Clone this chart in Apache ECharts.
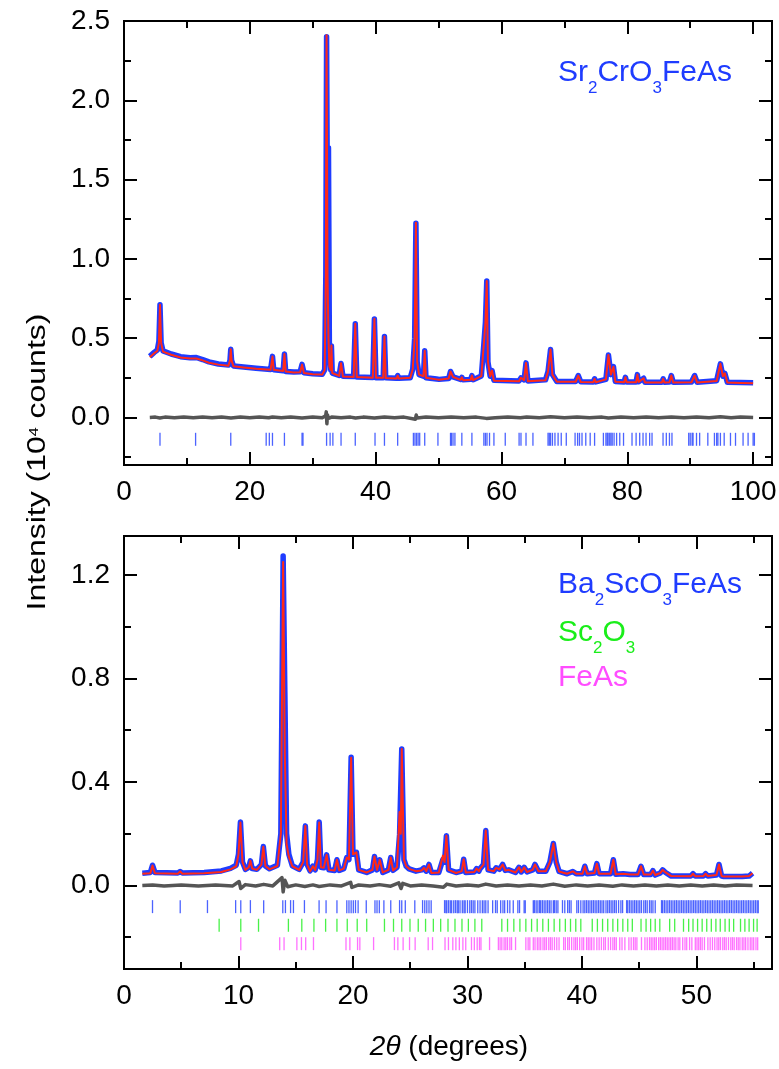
<!DOCTYPE html>
<html>
<head>
<meta charset="utf-8">
<script src="https://cdn.jsdelivr.net/npm/echarts@6/dist/echarts.min.js"></script>
<style>
html,body{margin:0;padding:0;background:#fff;}
#chart{width:779px;height:1069px;}
</style>
</head>
<body>
<div id="chart"></div>
<script>
// ---------------- Top panel: Sr2CrO3FeAs ----------------
const topTheta = [
  4.1, 4.8, 5.3, 5.55, 5.72, 5.9, 6.2, 7.5, 9.0, 10.5, 11.5,
  12.5, 13.5, 15.0, 16.6, 16.85, 16.97, 17.1, 17.4, 19.0, 21.0, 23.3,
  23.6, 23.8, 25.3, 25.5, 25.7, 27.0, 28.0, 28.3, 28.6, 30.0, 31.5,
  31.9, 32.08, 32.2, 32.35, 32.5, 32.65, 32.85, 32.97, 33.1, 34.2, 34.5,
  34.8, 36.5, 36.76, 37.0, 39.55, 39.8, 40.05, 41.2, 41.4, 41.6, 43.3,
  43.5, 43.7, 45.5, 45.9, 46.2, 46.4, 46.6, 46.9, 47.6, 47.8, 48.0,
  49.7, 49.9, 50.1, 51.6, 51.9, 52.3, 53.5, 53.7, 53.9, 55.1, 55.3,
  55.5, 56.8, 57.2, 57.45, 57.66, 57.85, 58.2, 58.5, 58.8, 62.8, 63.1,
  63.6, 63.9, 64.2, 67.0, 67.4, 67.8, 68.1, 68.4, 68.8, 71.8, 72.2,
  72.6, 74.6, 74.8, 75.0, 76.6, 77.0, 77.4, 77.8, 78.1, 79.5, 79.7,
  79.9, 81.4, 81.6, 81.8, 82.6, 82.8, 85.5, 85.7, 85.9, 86.7, 87.0,
  87.3, 90.2, 90.7, 91.1, 94.2, 94.8, 95.2, 95.5, 95.9, 98.0, 100.0
];
const topCalc = [
  0.380, 0.405, 0.420, 0.470, 0.710, 0.470, 0.415, 0.395, 0.378, 0.372, 0.372,
  0.360, 0.345, 0.333, 0.326, 0.360, 0.430, 0.360, 0.322, 0.315, 0.307, 0.300,
  0.384, 0.300, 0.293, 0.400, 0.290, 0.283, 0.285, 0.333, 0.280, 0.272, 0.270,
  0.300, 0.900, 2.410, 0.900, 0.500, 0.320, 0.300, 0.454, 0.280, 0.262, 0.342,
  0.258, 0.255, 0.590, 0.255, 0.250, 0.622, 0.250, 0.250, 0.510, 0.248, 0.245,
  0.264, 0.245, 0.250, 0.306, 0.500, 1.228, 0.350, 0.270, 0.260, 0.420, 0.250,
  0.240, 0.250, 0.238, 0.245, 0.290, 0.255, 0.237, 0.253, 0.235, 0.237, 0.264,
  0.235, 0.260, 0.464, 0.600, 0.861, 0.350, 0.260, 0.295, 0.232, 0.228, 0.250,
  0.235, 0.344, 0.228, 0.235, 0.290, 0.428, 0.270, 0.274, 0.225, 0.225, 0.264,
  0.224, 0.222, 0.243, 0.222, 0.240, 0.394, 0.270, 0.320, 0.225, 0.222, 0.253,
  0.222, 0.222, 0.270, 0.224, 0.247, 0.221, 0.220, 0.243, 0.220, 0.222, 0.264,
  0.220, 0.222, 0.264, 0.220, 0.230, 0.338, 0.260, 0.278, 0.220, 0.217, 0.215
];
const topObs = [
  0.385, 0.410, 0.425, 0.480, 0.710, 0.470, 0.420, 0.400, 0.383, 0.377, 0.378,
  0.365, 0.350, 0.337, 0.330, 0.360, 0.430, 0.360, 0.325, 0.318, 0.310, 0.302,
  0.385, 0.300, 0.295, 0.400, 0.290, 0.286, 0.288, 0.335, 0.282, 0.275, 0.272,
  0.300, 0.900, 2.400, 1.200, 1.700, 0.400, 0.300, 0.450, 0.280, 0.265, 0.340,
  0.260, 0.258, 0.590, 0.255, 0.252, 0.620, 0.250, 0.250, 0.510, 0.250, 0.247,
  0.264, 0.247, 0.250, 0.306, 0.500, 1.225, 0.350, 0.270, 0.260, 0.420, 0.250,
  0.242, 0.252, 0.240, 0.245, 0.290, 0.255, 0.240, 0.253, 0.237, 0.240, 0.264,
  0.238, 0.262, 0.464, 0.600, 0.860, 0.350, 0.260, 0.295, 0.235, 0.230, 0.250,
  0.237, 0.344, 0.230, 0.237, 0.290, 0.428, 0.270, 0.274, 0.227, 0.227, 0.264,
  0.225, 0.224, 0.243, 0.224, 0.240, 0.394, 0.270, 0.320, 0.227, 0.224, 0.253,
  0.224, 0.224, 0.270, 0.225, 0.247, 0.222, 0.222, 0.243, 0.222, 0.223, 0.264,
  0.222, 0.224, 0.264, 0.222, 0.232, 0.338, 0.260, 0.278, 0.222, 0.220, 0.218
];
const topDiffTheta = [
  4.1, 5.0, 5.7, 6.5, 8.0, 9.5, 11.0, 12.5, 14.0, 15.5, 17.0, 18.5, 20.0, 21.5,
  23.0, 23.6, 25.0, 26.5, 28.3, 30.0, 31.5, 32.05, 32.15, 32.25, 32.35, 32.5,
  33.0, 34.5, 36.0, 36.8, 38.0, 39.8, 41.4, 43.0, 44.5, 46.3, 46.45, 46.6, 48.0,
  50.0, 52.0, 54.0, 56.0, 57.6, 57.75, 59.0, 61.0, 63.0, 64.0, 66.0, 67.8, 70.0,
  72.0, 74.0, 76.0, 77.0, 79.0, 81.0, 83.0, 85.0, 87.0, 89.0, 91.0, 93.0, 94.8,
  96.5, 98.0, 100.0
];
const topDiff = [
  0.000, 0.002, -0.003, 0.002, -0.002, 0.002, -0.002, 0.002, -0.002, 0.002, -0.003, 0.002, -0.002, 0.002,
  -0.002, 0.003, -0.002, 0.002, -0.003, 0.002, -0.002, 0.010, 0.035, -0.040, 0.015, -0.006,
  0.002, -0.002, 0.002, -0.004, 0.002, -0.004, 0.003, -0.002, 0.002, -0.012, 0.015, -0.004, 0.002,
  -0.002, 0.002, -0.002, 0.002, -0.006, 0.006, -0.002, 0.002, -0.002, 0.003, -0.002, 0.004, -0.002,
  0.002, -0.002, 0.002, -0.004, 0.002, -0.002, 0.002, -0.002, 0.002, -0.002, 0.002, -0.002, 0.004,
  -0.002, 0.002, 0.000
];
const topBragg = [
  5.72, 11.38, 16.97, 22.6, 23.1, 23.6, 25.5, 28.3, 28.45, 32.2, 32.76, 33.2, 34.5,
  36.76, 39.9, 41.4, 43.5, 46.0, 46.25, 46.5, 46.75, 47.0, 47.8, 49.9, 51.9, 52.05,
  52.3, 52.6, 53.7, 55.3, 57.2, 57.45, 57.7, 58.1, 58.8, 60.6, 62.8, 63.1, 63.9, 65.0,
  67.4, 67.6, 67.8, 68.1, 68.5, 69.0, 69.5, 70.3, 71.7, 72.1, 72.4, 72.8, 73.4, 74.1,
  74.8, 76.2, 76.6, 76.8, 76.95, 77.2, 77.4, 77.6, 77.9, 78.3, 78.8, 79.4, 80.75,
  81.4, 81.97, 82.5, 82.98, 83.55, 83.93, 85.68, 86.2, 86.7, 87.1, 89.76, 90.0, 90.3,
  90.45, 91.0, 91.5, 92.8, 93.85, 94.2, 94.4, 94.8, 95.4, 96.4, 97.2, 98.4, 99.2,
  100.0, 100.2
];
const topBraggLevel = -0.138;

// ---------------- Bottom panel: Ba2ScO3FeAs ----------------
const botTheta = [
  1.6, 2.3, 2.49, 2.7, 4.7, 4.9, 5.1, 7.0, 8.5, 9.3,
  9.8, 10.0, 10.17, 10.35, 10.6, 10.9, 11.04, 11.2, 11.6, 12.0,
  12.17, 12.35, 12.7, 13.4, 13.7, 13.9, 14.05, 14.2, 14.4, 14.7,
  15.3, 15.65, 15.84, 16.0, 16.25, 16.5, 16.7, 16.9, 17.05, 17.2,
  17.45, 17.7, 17.9, 18.4, 18.6, 18.8, 19.2, 19.46, 19.65, 19.84,
  20.0, 20.3, 20.5, 21.2, 21.7, 21.88, 22.1, 22.34, 22.6, 23.1,
  23.3, 23.5, 23.85, 24.07, 24.18, 24.26, 24.45, 24.65, 24.9, 25.5,
  26.0, 26.2, 26.4, 26.64, 26.85, 27.5, 27.85, 28.0, 28.16, 28.35,
  29.0, 29.5, 29.67, 29.85, 30.6, 30.8, 31.0, 31.1, 31.4, 31.6,
  31.8, 32.3, 32.5, 32.8, 33.07, 33.3, 33.6, 34.2, 34.5, 34.7,
  34.96, 35.2, 35.7, 35.9, 36.2, 36.85, 37.2, 37.5, 37.75, 38.0,
  38.7, 39.2, 39.5, 40.05, 40.25, 40.45, 41.1, 41.3, 41.5, 42.5,
  42.74, 42.95, 43.6, 44.2, 44.9, 45.16, 45.4, 46.0, 46.2, 46.4,
  46.85, 47.05, 47.3, 47.8, 49.5, 49.7, 49.9, 50.6, 50.8, 51.0,
  51.75, 51.97, 52.2, 52.4, 54.0, 54.6, 54.9
];
const botCalc = [
  0.045, 0.047, 0.077, 0.047, 0.045, 0.054, 0.045, 0.047, 0.052, 0.062,
  0.074, 0.120, 0.243, 0.090, 0.060, 0.070, 0.095, 0.065, 0.060, 0.080,
  0.149, 0.075, 0.062, 0.075, 0.200, 1.250, 0.500, 0.160, 0.110, 0.074,
  0.060, 0.090, 0.230, 0.080, 0.054, 0.074, 0.060, 0.100, 0.243, 0.070,
  0.068, 0.118, 0.060, 0.058, 0.099, 0.058, 0.065, 0.108, 0.100, 0.493,
  0.120, 0.128, 0.060, 0.050, 0.060, 0.112, 0.060, 0.099, 0.050, 0.060,
  0.108, 0.058, 0.070, 0.284, 0.200, 0.527, 0.100, 0.074, 0.064, 0.055,
  0.058, 0.068, 0.055, 0.081, 0.048, 0.050, 0.115, 0.090, 0.192, 0.060,
  0.048, 0.055, 0.101, 0.050, 0.052, 0.065, 0.055, 0.065, 0.080, 0.212,
  0.060, 0.055, 0.068, 0.062, 0.081, 0.058, 0.060, 0.050, 0.070, 0.052,
  0.070, 0.052, 0.060, 0.081, 0.055, 0.055, 0.090, 0.162, 0.090, 0.054,
  0.045, 0.054, 0.045, 0.045, 0.074, 0.045, 0.048, 0.084, 0.045, 0.045,
  0.099, 0.043, 0.045, 0.042, 0.042, 0.074, 0.042, 0.042, 0.057, 0.040,
  0.048, 0.060, 0.050, 0.036, 0.035, 0.045, 0.035, 0.036, 0.045, 0.036,
  0.040, 0.081, 0.036, 0.034, 0.034, 0.036, 0.047
];
const botObs = [
  0.047, 0.050, 0.078, 0.050, 0.048, 0.054, 0.048, 0.050, 0.056, 0.066,
  0.078, 0.120, 0.245, 0.090, 0.062, 0.070, 0.095, 0.065, 0.062, 0.080,
  0.150, 0.075, 0.064, 0.078, 0.200, 1.273, 0.743, 0.200, 0.120, 0.076,
  0.062, 0.090, 0.230, 0.080, 0.056, 0.074, 0.060, 0.100, 0.245, 0.070,
  0.068, 0.118, 0.060, 0.058, 0.099, 0.058, 0.065, 0.108, 0.100, 0.495,
  0.120, 0.128, 0.060, 0.050, 0.060, 0.112, 0.060, 0.099, 0.050, 0.060,
  0.108, 0.058, 0.070, 0.196, 0.200, 0.527, 0.100, 0.074, 0.064, 0.055,
  0.060, 0.068, 0.055, 0.081, 0.050, 0.050, 0.100, 0.090, 0.192, 0.060,
  0.050, 0.055, 0.101, 0.050, 0.052, 0.065, 0.055, 0.065, 0.080, 0.212,
  0.060, 0.055, 0.068, 0.062, 0.081, 0.058, 0.060, 0.050, 0.070, 0.052,
  0.070, 0.052, 0.060, 0.081, 0.055, 0.055, 0.090, 0.162, 0.090, 0.054,
  0.045, 0.054, 0.045, 0.045, 0.074, 0.045, 0.048, 0.084, 0.045, 0.045,
  0.099, 0.043, 0.045, 0.042, 0.042, 0.074, 0.042, 0.042, 0.057, 0.040,
  0.048, 0.060, 0.050, 0.036, 0.036, 0.045, 0.036, 0.036, 0.045, 0.036,
  0.040, 0.081, 0.036, 0.034, 0.034, 0.036, 0.047
];
const botDiffTheta = [
  1.6, 2.5, 3.5, 5.0, 6.5, 8.0, 9.5, 10.05, 10.2, 10.6, 11.5, 12.2, 13.0, 13.8,
  13.9, 14.05, 14.3, 15.0, 15.8, 16.5, 17.05, 18.0, 19.0, 19.8, 19.9, 20.5, 21.5,
  22.3, 23.3, 24.0, 24.2, 24.35, 25.0, 26.0, 27.0, 27.9, 28.2, 29.0, 30.0, 31.0,
  31.6, 32.5, 33.5, 34.5, 35.5, 36.5, 37.5, 38.5, 39.5, 40.5, 41.5, 42.7, 43.5,
  44.5, 45.5, 46.5, 47.5, 48.5, 49.5, 50.5, 51.5, 52.5, 53.5, 54.9
];
const botDiff = [
  0.000, 0.002, -0.002, 0.002, -0.002, 0.002, -0.002, 0.015, -0.012, 0.003, -0.002, 0.004, -0.002, 0.030,
  -0.025, 0.020, -0.005, 0.002, -0.004, 0.002, -0.004, 0.002, -0.002, 0.012, -0.008, 0.002, -0.002,
  0.003, -0.003, 0.010, -0.012, 0.008, -0.002, 0.002, -0.002, -0.007, 0.005, -0.002, 0.002, -0.002,
  0.005, -0.002, 0.002, -0.002, 0.002, -0.002, 0.005, -0.003, 0.002, -0.002, 0.002, -0.003, 0.002,
  -0.002, 0.002, -0.002, 0.002, -0.002, 0.002, -0.002, 0.002, -0.002, 0.002, 0.000
];
const botBraggMain = [
  2.49, 4.91, 7.29, 9.75, 10.2, 11.04, 12.2, 13.87, 14.1, 14.55, 14.8, 15.76, 17.04,
  17.65, 18.6, 19.46, 19.65, 19.84, 20.03, 20.22, 20.45, 21.16, 21.92, 22.1, 22.3,
  22.7, 23.3, 24.07, 24.26, 24.57, 25.4, 26.08, 26.27, 26.45, 26.64, 26.83,
  28.0, 28.12, 28.2, 28.35, 28.5, 28.62, 28.8, 28.95, 29.1, 29.2, 29.35, 29.55, 29.7,
  29.8, 30.0, 30.2, 30.35, 30.5, 30.65, 30.9, 31.1, 31.3, 31.45, 31.6, 31.8, 32.2,
  32.45, 32.6, 32.9, 33.1, 33.25, 33.5, 33.7, 34.0, 34.4, 34.55, 34.95, 35.05,
  35.75, 35.85, 36.0, 36.15, 36.3, 36.4, 36.55, 36.7, 36.85, 37.0, 37.15, 37.3, 37.5,
  37.6, 37.75, 37.9, 38.3, 38.5, 38.75, 38.9, 39.05,
  39.55, 39.7, 39.9, 40.1, 40.25, 40.4, 40.55, 40.7, 40.85, 41.0, 41.15, 41.3, 41.45,
  41.6, 41.75, 41.9, 42.1, 42.25, 42.4, 42.55, 42.7, 42.85, 43.0, 43.2, 43.4, 43.55,
  43.9, 44.0, 44.15, 44.3, 44.45, 44.6, 44.75, 44.9, 45.05, 45.2, 45.4, 45.55, 45.7,
  45.9, 46.05, 46.2, 46.4,
  46.95, 47.05, 47.2, 47.35, 47.5, 47.65, 47.8, 47.95, 48.1, 48.25, 48.4, 48.55, 48.7,
  48.85, 49.0, 49.15, 49.3, 49.45, 49.6, 49.75, 49.9, 50.05, 50.2, 50.35, 50.5, 50.65,
  50.8, 50.95, 51.1, 51.25, 51.4, 51.55, 51.7, 51.85, 52.0, 52.15, 52.3, 52.45, 52.6,
  52.75, 52.9, 53.05, 53.2, 53.35, 53.5, 53.65, 53.8, 53.95, 54.1, 54.25, 54.4, 54.55,
  54.7, 54.85, 55.0, 55.15, 55.3, 55.4
];
const botBraggSc2O3 = [
  8.31, 10.2, 11.75, 14.36, 15.53, 16.59, 17.61, 18.6, 19.5, 20.37, 21.2, 22.75, 23.54,
  24.26, 24.98, 25.7, 26.34, 27.02, 27.66, 28.3, 28.91, 29.52, 30.08, 30.65, 31.25,
  33.0, 33.5, 34.05, 34.58, 35.1, 35.6, 36.09, 36.58, 37.07, 37.57, 38.06, 38.55, 39.0,
  39.46, 39.9, 40.9, 41.35, 41.8, 42.25, 42.7, 43.12, 43.57, 44.0, 44.4, 45.16, 45.6,
  46.0, 46.4, 46.8, 47.66, 48.1, 48.87, 49.32, 49.7, 50.1, 50.5, 50.9, 51.3, 51.7,
  52.08, 52.5, 52.87, 53.25, 53.85, 54.23, 54.6, 54.99, 55.3
];
const botBraggFeAs = [
  10.2, 13.6, 13.98, 15.1, 15.5, 15.87, 16.55, 19.39, 19.73, 20.4, 20.6, 21.8, 23.62,
  23.92, 24.38, 24.94, 25.43, 26.57, 26.95, 28.04, 28.34, 28.72, 28.99, 29.29, 29.6,
  29.85, 30.35, 30.6, 30.85, 31.05, 31.18, 31.93, 32.7, 32.85, 33.0, 33.2, 33.35, 33.5,
  33.7, 33.85, 34.2, 35.1, 35.3, 35.45, 35.75, 35.9, 36.1, 36.25, 36.4, 36.6, 36.75,
  36.9, 37.1, 37.25, 37.4, 37.6, 37.8, 38.0, 38.4, 38.55, 38.75, 38.9, 39.1, 39.3,
  39.45, 39.6, 39.8, 40.0, 40.15, 40.4, 40.55, 40.7, 40.85, 41.05, 41.3, 41.5, 41.7,
  41.9, 42.05, 42.3, 42.5, 42.7, 42.85, 43.0, 43.3, 43.5, 43.75, 44.1, 44.3, 44.5,
  44.65, 44.8, 45.2, 45.5, 45.7, 45.9, 46.05, 46.2, 46.35, 46.5, 46.7, 46.85, 47.0,
  47.15, 47.3, 47.45, 47.6, 47.75, 47.9, 48.05, 48.2, 48.4, 48.55, 48.8, 49.0, 49.15,
  49.4, 49.6, 49.9, 50.05, 50.2, 50.35, 50.5, 50.7, 51.0, 51.2, 51.4, 51.6, 51.8,
  51.95, 52.1, 52.3, 52.45, 52.6, 52.8, 53.0, 53.15, 53.3, 53.5, 53.65, 53.8, 54.0,
  54.15, 54.3, 54.5, 54.7, 54.85, 55.0, 55.2, 55.35
];
const botLevelMain = -0.082;
const botLevelSc2O3 = -0.154;
const botLevelFeAs = -0.225;

// ---------------- Axis ticks ----------------
const topMajorX = [0, 20, 40, 60, 80, 100];
const topMinorX = [10, 30, 50, 70, 90];
const topMajorY = [0, 0.5, 1.0, 1.5, 2.0, 2.5];
const topMinorY = [-0.25, 0.25, 0.75, 1.25, 1.75, 2.25];
const botMajorX = [0, 10, 20, 30, 40, 50];
const botMinorX = [5, 15, 25, 35, 45, 55];
const botMajorY = [0, 0.4, 0.8, 1.2];
const botMinorY = [-0.2, 0.2, 0.6, 1.0];

// ---------------- Styling ----------------
const FONT = 'Liberation Sans, Arial, Helvetica, sans-serif';
const C_OBS = '#1f3cff';
const C_CALC = '#ff2a18';
const C_DIFF = '#555555';
const C_GREEN = '#1aee1a';
const C_MAG = '#ff4dff';

function axisSet(kind, gridIndex, min, max, major, minor, fmt) {
  const sides = kind === 'x' ? ['bottom', 'top'] : ['left', 'right'];
  const out = [];
  sides.forEach((pos, si) => {
    [[major, 13], [minor, 7]].forEach(([vals, len], ti) => {
      out.push({
        type: 'value', gridIndex, min, max, position: pos,
        axisLine: { show: true, onZero: false, lineStyle: { color: '#000', width: 2 } },
        axisTick: { show: true, inside: true, length: len, customValues: vals,
                    lineStyle: { color: '#000', width: 2 } },
        axisLabel: { show: si === 0 && ti === 0, customValues: vals, formatter: fmt,
                     fontSize: 28, color: '#000', fontFamily: FONT,
                     margin: kind === 'x' ? 13 : 14 },
        splitLine: { show: false },
        minorTick: { show: false },
        axisPointer: { show: false }
      });
    });
  });
  return out;
}
const fmtX = v => String(Math.round(v));
const fmtY = v => Number(v).toFixed(1);

const xAxes = [].concat(
  axisSet('x', 0, 0, 103, topMajorX, topMinorX, fmtX),
  axisSet('x', 1, 0, 56.6, botMajorX, botMinorX, fmtX)
);
const yAxes = [].concat(
  axisSet('y', 0, -0.3, 2.5, topMajorY, topMinorY, fmtY),
  axisSet('y', 1, -0.323, 1.35, botMajorY, botMinorY, fmtY)
);

function lineSeries(xs, ys, ai, color, width, z) {
  return {
    type: 'line', xAxisIndex: ai, yAxisIndex: ai,
    data: xs.map((x, i) => [x, ys[i]]),
    symbol: 'none', showSymbol: false, smooth: false,
    lineStyle: { color, width, join: 'round' }, z, silent: true, animation: false
  };
}
function tickSeries(xs, level, ai, color) {
  return {
    type: 'scatter', xAxisIndex: ai, yAxisIndex: ai,
    data: xs.map(x => [x, level]),
    symbol: 'rect', symbolSize: [1.3, 13],
    itemStyle: { color }, z: 4, silent: true, animation: false
  };
}

const series = [
  lineSeries(topTheta, topObs, 0, C_OBS, 5.5, 2),
  lineSeries(topTheta, topCalc, 0, C_CALC, 2, 3),
  lineSeries(topDiffTheta, topDiff, 0, C_DIFF, 3.5, 3),
  tickSeries(topBragg, topBraggLevel, 0, C_OBS),
  lineSeries(botTheta, botObs, 4, C_OBS, 5.5, 2),
  lineSeries(botTheta, botCalc, 4, C_CALC, 2, 3),
  lineSeries(botDiffTheta, botDiff, 4, C_DIFF, 3.5, 3),
  tickSeries(botBraggMain, botLevelMain, 4, C_OBS),
  tickSeries(botBraggSc2O3, botLevelSc2O3, 4, C_GREEN),
  tickSeries(botBraggFeAs, botLevelFeAs, 4, C_MAG)
];

function formulaRich(color) {
  return {
    m: { fontSize: 30, fontFamily: FONT, fill: color, verticalAlign: 'top' },
    s: { fontSize: 17, fontFamily: FONT, fill: color, verticalAlign: 'top', padding: [22, 0, 0, 0] }
  };
}
function formulaText(x, y, text, color) {
  return {
    type: 'text', x, y, silent: true,
    style: { text, rich: formulaRich(color), fill: color, align: 'left', verticalAlign: 'top',
             fontSize: 30, fontFamily: FONT }
  };
}

const graphics = [
  formulaText(558, 58, '{m|Sr}{s|2}{m|CrO}{s|3}{m|FeAs}', C_OBS),
  formulaText(558, 570, '{m|Ba}{s|2}{m|ScO}{s|3}{m|FeAs}', C_OBS),
  formulaText(558, 618, '{m|Sc}{s|2}{m|O}{s|3}', C_GREEN),
  formulaText(558, 663, '{m|FeAs}', C_MAG),
  {
    type: 'text', x: 36, y: 462, rotation: Math.PI / 2, scaleX: 1.23, silent: true,
    style: {
      text: '{m|Intensity (10}{p|4}{m| counts)}',
      align: 'center', verticalAlign: 'middle', fill: '#000', fontSize: 26, fontFamily: FONT,
      rich: {
        m: { fontSize: 26, fontFamily: FONT, fill: '#000', verticalAlign: 'top', padding: [4, 0, 0, 0] },
        p: { fontSize: 13, fontFamily: FONT, fill: '#000', verticalAlign: 'top', padding: [7, 0, 0, 0] }
      }
    }
  },
  {
    type: 'text', x: 449, y: 1033, silent: true,
    style: {
      text: '{i|2θ}{n| (degrees)}',
      align: 'center', verticalAlign: 'top', fill: '#000', fontSize: 28, fontFamily: FONT,
      rich: {
        i: { fontSize: 28, fontFamily: FONT, fontStyle: 'italic', fill: '#000' },
        n: { fontSize: 28, fontFamily: FONT, fill: '#000' }
      }
    }
  }
];

const chart = echarts.init(document.getElementById('chart'), null, { renderer: 'canvas' });
chart.setOption({
  animation: false,
  backgroundColor: '#fff',
  grid: [
    { left: 124, top: 21, width: 648, height: 444, containLabel: false, outerBoundsMode: 'none' },
    { left: 124, top: 536, width: 648, height: 433, containLabel: false, outerBoundsMode: 'none' }
  ],
  xAxis: xAxes,
  yAxis: yAxes,
  series,
  graphic: graphics
});
</script>
</body>
</html>
